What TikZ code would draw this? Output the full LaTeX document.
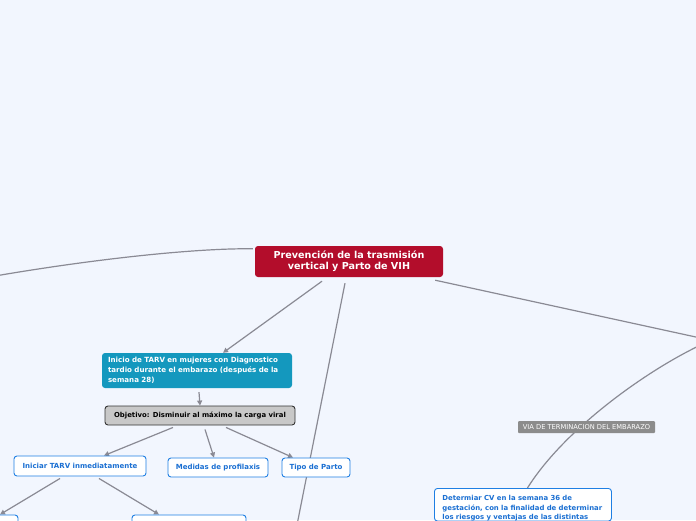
\documentclass[tikz,border=0pt]{standalone}
\usepackage{fontspec}
\setmainfont{DejaVu Sans}
\usetikzlibrary{arrows.meta,backgrounds}
\definecolor{bgc}{HTML}{F2F6FE}
\definecolor{rootc}{HTML}{B30D2B}
\definecolor{tealc}{HTML}{1498BE}
\definecolor{grayn}{HTML}{C8C8C8}
\definecolor{bluec}{HTML}{1F7FE3}
\definecolor{bluet}{HTML}{1A6FD2}
\definecolor{linec}{HTML}{8A8A94}
\definecolor{labc}{HTML}{8C8C8C}
\tikzset{
  x=1pt, y=-1pt,
  conn/.style={draw=linec, line width=1.2pt},
  arr/.style={conn, -{Triangle[length=5pt,width=5pt]}},
  rootbox/.style={fill=rootc, draw=none, rounded corners=3pt, text=white, font=\fontsize{9.6}{11}\selectfont\bfseries, align=center, inner sep=0pt},
  tealbox/.style={fill=tealc, draw=none, rounded corners=3pt, text=white, font=\fontsize{7.1}{10}\selectfont\bfseries, align=left, inner sep=0pt},
  graybox/.style={fill=grayn, draw=black!80, line width=0.9pt, rounded corners=3pt, text=black, font=\fontsize{6.9}{8}\selectfont\bfseries, inner sep=0pt},
  bluebox/.style={fill=white, draw=bluec, line width=0.9pt, rounded corners=3pt, text=bluet, font=\fontsize{7}{8}\selectfont\bfseries, inner sep=0pt},
  labbox/.style={fill=labc, draw=none, rounded corners=1pt, text=white, font=\fontsize{6.7}{7}\selectfont, inner sep=0pt},
}
\begin{document}
\begin{tikzpicture}
\useasboundingbox (0,0) rectangle (696,520);
\coordinate (offL) at (-5,276);
\coordinate (offB) at (293,545);
\coordinate (offR) at (705,339);
\coordinate (offR2) at (705,343);
\node[rootbox, minimum width=188pt, minimum height=31pt] (root) at (349,261.5) {Prevención de la trasmisión\\vertical y Parto de VIH};
\node[tealbox, minimum width=190pt, minimum height=35pt, text width=178pt] (inicio) at (197,370.5) {Inicio de TARV en mujeres con Diagnostico\\tardio durante el embarazo (después de la\\semana 28)};
\node[graybox, minimum width=190pt, minimum height=19pt] (obj) at (200,415.5) {Objetivo: Disminuir al máximo la carga viral};
\node[bluebox, minimum width=132pt, minimum height=20pt] (iniciar) at (80,466) {Iniciar TARV inmediatamente};
\node[bluebox, minimum width=100pt, minimum height=19pt] (medidas) at (218,467.5) {Medidas de profilaxis};
\node[bluebox, minimum width=68pt, minimum height=19pt] (tipo) at (316,467.5) {Tipo de Parto};
\node[bluebox, minimum width=118pt, minimum height=30pt] (pleft) at (-41,530) {};
\node[bluebox, minimum width=114pt, minimum height=30pt] (pmid) at (189,530) {};
\node[labbox, minimum width=137pt, minimum height=12pt] (lab) at (586.5,427) {VIA DE TERMINACION DEL EMBARAZO};
\node[bluebox, anchor=north west, minimum width=177pt, text width=177pt, align=left, inner ysep=0pt, font=\fontsize{6.9}{9.3}\selectfont\bfseries] (det) at (434,488) {\rule{0pt}{12.5pt}\hspace*{8pt}Determiar CV en la semana 36 de\\\hspace*{8pt}gestación, con la finalidad de determinar\\\hspace*{8pt}los riesgos y ventajas de las distintas\\[10pt]};
\begin{scope}[on background layer]
\fill[bgc] (0,0) rectangle (696,520);
\draw[conn] ([xshift=-2pt,yshift=-3pt]root.north west) .. controls (200,248) and (100,258) .. (offL);
\draw[arr] ([xshift=-27pt,yshift=-4pt]root.south) -- ([xshift=26pt]inicio.north);
\draw[conn] ([xshift=-4pt,yshift=-6pt]root.south) -- (offB);
\draw[conn] ([xshift=-8pt,yshift=-3pt]root.south east) -- (offR);
\draw[conn] (offR2) .. controls (650,368) and (565,428) .. ([xshift=4.5pt]det.north);
\draw[arr] ([xshift=2pt,yshift=-4pt]inicio.south) -- (obj.north);
\draw[arr] ([xshift=-27pt,yshift=-2pt]obj.south) -- ([xshift=24pt]iniciar.north);
\draw[arr] ([xshift=5pt,yshift=-4pt]obj.south) -- ([xshift=-4pt]medidas.north);
\draw[arr] ([xshift=26pt,yshift=-2pt]obj.south) -- ([xshift=-23pt]tipo.north);
\draw[arr] ([xshift=-20pt,yshift=-2pt]iniciar.south) -- ([xshift=41pt]pleft.north);
\draw[arr] ([xshift=19pt,yshift=-2pt]iniciar.south) -- ([xshift=-30pt]pmid.north);
\end{scope}
\end{tikzpicture}
\end{document}
